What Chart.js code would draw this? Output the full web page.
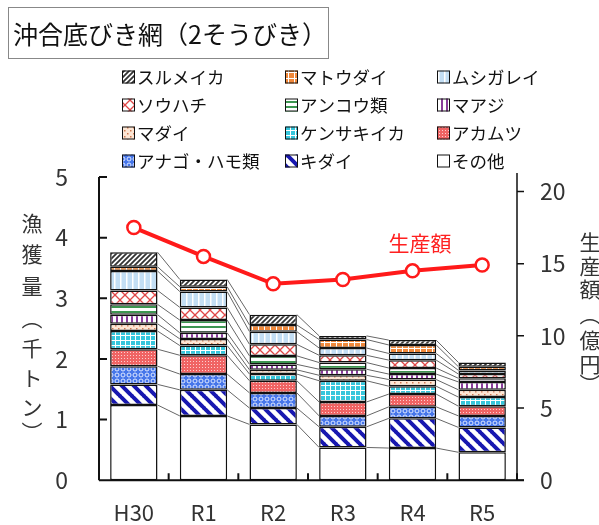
<!DOCTYPE html>
<html>
<head>
<meta charset="utf-8">
<script src="https://cdn.jsdelivr.net/npm/chart.js"></script>
<style>
  body { margin: 0; background: #fff; }
  #wrap { width: 599px; height: 525px; }
</style>
</head>
<body>
<div id="wrap"><canvas id="cv" width="599" height="525"></canvas></div>
<script>
// years
const years = ['H30', 'R1', 'R2', 'R3', 'R4', 'R5'];

// catch (thousand t), stack from bottom
const sonota     = [1.24, 1.06, 0.92, 0.54, 0.53, 0.46];
const kidai      = [0.34, 0.43, 0.27, 0.34, 0.49, 0.41];
const anago      = [0.30, 0.26, 0.25, 0.18, 0.19, 0.19];
const akamutsu   = [0.28, 0.31, 0.20, 0.23, 0.21, 0.16];
const kensaki    = [0.30, 0.16, 0.11, 0.35, 0.13, 0.15];
const madai      = [0.12, 0.11, 0.07, 0.09, 0.11, 0.12];
const maaji      = [0.15, 0.10, 0.09, 0.10, 0.09, 0.13];
const ankou      = [0.17, 0.21, 0.14, 0.11, 0.10, 0.06];
const souhachi   = [0.23, 0.21, 0.19, 0.12, 0.13, 0.07];
const mushigarei = [0.32, 0.26, 0.21, 0.12, 0.11, 0.06];
const matoudai   = [0.07, 0.08, 0.11, 0.14, 0.14, 0.06];
const surumeika  = [0.24, 0.12, 0.17, 0.06, 0.08, 0.07];

// production value (100 million yen)
const seisangaku = [17.5, 15.5, 13.6, 13.9, 14.5, 14.9];

// axis ticks
const catchTicks = [0, 1, 2, 3, 4, 5];
const valueTicks = [0, 5, 10, 15, 20];

const FONT = "'Noto Sans CJK JP', 'Noto Sans', sans-serif";
Chart.defaults.font.family = FONT;

const canvas = document.getElementById('cv');
const ctx = canvas.getContext('2d');

// small tile patterns
function pat(size, bg, draw) {
  const c = document.createElement('canvas');
  c.width = c.height = size;
  const g = c.getContext('2d');
  g.fillStyle = bg;
  g.fillRect(0, 0, size, size);
  draw(g, size);
  return ctx.createPattern(c, 'repeat');
}
function slash(g, s, col, lw) {   // "/"
  g.strokeStyle = col; g.lineWidth = lw; g.beginPath();
  g.moveTo(0, s); g.lineTo(s, 0);
  g.moveTo(-1, 1); g.lineTo(1, -1);
  g.moveTo(s - 1, s + 1); g.lineTo(s + 1, s - 1);
  g.stroke();
}
function backslash(g, s, col, lw) { // "\"
  g.strokeStyle = col; g.lineWidth = lw; g.beginPath();
  g.moveTo(0, 0); g.lineTo(s, s);
  g.moveTo(s - 1, -1); g.lineTo(s + 1, 1);
  g.moveTo(-1, s - 1); g.lineTo(1, s + 1);
  g.stroke();
}
function grid(g, s, col, lw) {
  g.fillStyle = col;
  g.fillRect(0, 0, s, lw);
  g.fillRect(0, 0, lw, s);
}

const fills = {
  surumeika: pat(5, '#fff', (g, s) => slash(g, s, '#333', 1.8)),
  matoudai: pat(6, '#f0883a', (g, s) => grid(g, s, '#fff', 1)),
  mushigarei: pat(6, '#c3def4', (g, s) => { g.fillStyle = '#fff'; g.fillRect(0, 0, 1.5, s); }),
  souhachi: pat(10, '#fff', (g, s) => { slash(g, s, '#e04848', 1.3); backslash(g, s, '#e04848', 1.3); }),
  ankou: pat(5, '#fff', (g, s) => { g.fillStyle = '#3c9650'; g.fillRect(0, 1, s, 2); }),
  maaji: pat(5, '#fff', (g, s) => { g.fillStyle = '#8a3c9c'; g.fillRect(1, 0, 2, s); }),
  madai: pat(6, '#fde6d4', (g, s) => { g.fillStyle = '#d07850'; g.fillRect(1, 1, 1.5, 1.5); g.fillRect(4, 4, 1.5, 1.5); }),
  kensaki: pat(5, '#36c6dc', (g, s) => grid(g, s, '#fff', 1)),
  akamutsu: pat(3, '#f06464', (g, s) => { g.fillStyle = '#fbd0d0'; g.fillRect(1, 1, 1, 1); }),
  anago: pat(6, '#4676ea', (g, s) => { g.strokeStyle = '#dfe8ff'; g.lineWidth = 1; g.beginPath(); g.arc(3, 3, 2, 0, Math.PI * 2); g.stroke(); }),
  kidai: pat(12, '#fff', (g, s) => backslash(g, s, '#1818b0', 4)),
  sonota: '#fff'
};

// bottom to top
const barSets = [
  ['その他', sonota, fills.sonota],
  ['キダイ', kidai, fills.kidai],
  ['アナゴ・ハモ類', anago, fills.anago],
  ['アカムツ', akamutsu, fills.akamutsu],
  ['ケンサキイカ', kensaki, fills.kensaki],
  ['マダイ', madai, fills.madai],
  ['マアジ', maaji, fills.maaji],
  ['アンコウ類', ankou, fills.ankou],
  ['ソウハチ', souhachi, fills.souhachi],
  ['ムシガレイ', mushigarei, fills.mushigarei],
  ['マトウダイ', matoudai, fills.matoudai],
  ['スルメイカ', surumeika, fills.surumeika]
];

const datasets = barSets.map(([label, data, bg]) => ({
  type: 'bar',
  label: label,
  data: data,
  backgroundColor: bg,
  borderColor: '#111',
  borderWidth: 1.5,
  borderSkipped: false,
  yAxisID: 'y',
  stack: 'catch',
  order: 1,
  barPercentage: 0.68,
  categoryPercentage: 1.0
}));
datasets.push({
  type: 'line',
  label: '生産額',
  data: seisangaku,
  yAxisID: 'y2',
  borderColor: '#ff1a1a',
  borderWidth: 4,
  pointRadius: 6.5,
  pointBackgroundColor: '#fff',
  pointBorderColor: '#ff1a1a',
  pointBorderWidth: 2.5,
  order: 0
});

function vText(c, chars, x, ys) {
  c.textAlign = 'center';
  c.textBaseline = 'middle';
  chars.forEach((ch, i) => c.fillText(ch, x, ys[i]));
}

const decor = {
  id: 'decor',
  beforeDatasetDraw(chart, args) {
    if (chart.data.datasets[args.index].type !== 'line') return;
    // thin connectors between segment tops
    const c = chart.ctx;
    c.save();
    c.strokeStyle = '#666';
    c.lineWidth = 1;
    c.beginPath();
    barSets.forEach((_, di) => {
      const pts = chart.getDatasetMeta(di).data;
      for (let i = 0; i < pts.length - 1; i++) {
        const a = pts[i], b = pts[i + 1];
        c.moveTo(a.x + a.width / 2, a.y);
        c.lineTo(b.x - b.width / 2, b.y);
      }
    });
    c.stroke();
    c.restore();
  },
  afterDraw(chart) {
    const c = chart.ctx;
    const { left, right, top, bottom } = chart.chartArea;
    const y = chart.scales.y, y2 = chart.scales.y2;
    c.save();
    c.strokeStyle = '#111';
    // axes
    c.lineWidth = 2;
    c.beginPath();
    c.moveTo(left, y.getPixelForValue(5)); c.lineTo(left, bottom);
    c.moveTo(left, bottom); c.lineTo(right + 7, bottom);
    catchTicks.forEach(v => {
      const py = y.getPixelForValue(v);
      c.moveTo(left, py); c.lineTo(left + 8, py);
    });
    const cw = (right - left) / years.length;
    for (let k = 1; k <= years.length; k++) {
      const px = left + k * cw;
      c.moveTo(px, bottom); c.lineTo(px, bottom - 7);
    }
    c.stroke();
    c.lineWidth = 1.5;
    c.beginPath();
    c.moveTo(right, top - 4); c.lineTo(right, bottom);
    valueTicks.forEach(v => {
      const py = y2.getPixelForValue(v);
      c.moveTo(right, py); c.lineTo(right + 7, py);
    });
    c.stroke();

    // title box
    c.strokeStyle = '#888';
    c.lineWidth = 1;
    c.strokeRect(8.5, 7.5, 320, 51);
    c.fillStyle = '#111';
    c.font = '25px ' + FONT;
    c.textAlign = 'left';
    c.textBaseline = 'middle';
    c.fillText('沖合底びき網（2そうびき）', 13, 34);

    // legend, 3 columns x 4 rows, top of stack first
    const colX = [122, 285, 437];
    const rowY = [77, 105, 133, 161];
    c.font = '17.5px ' + FONT;
    const items = barSets.slice().reverse();
    items.forEach(([label, , bg], i) => {
      const bx = colX[i % 3], by = rowY[Math.floor(i / 3)];
      c.fillStyle = bg;
      c.fillRect(bx, by - 6.5, 13, 13);
      c.strokeStyle = '#111';
      c.lineWidth = 1;
      c.strokeRect(bx + 0.5, by - 6, 12, 12);
      c.fillStyle = '#111';
      c.textAlign = 'left';
      c.fillText(label, bx + 15, by);
    });

    // axis titles
    c.fillStyle = '#333';
    c.font = '21px ' + FONT;
    vText(c, ['漁', '獲', '量', '︵', '千', 'ト', 'ン', '︶'], 32,
      [223, 254, 286, 318, 348, 378, 407, 432]);
    vText(c, ['生', '産', '額', '︵', '億', '円', '︶'], 590,
      [242, 266, 289, 314, 340, 364, 384]);

    // series label
    c.fillStyle = '#ff2020';
    c.font = '21px ' + FONT;
    c.textAlign = 'center';
    c.fillText('生産額', 420, 243);
    c.restore();
  }
};

new Chart(ctx, {
  type: 'bar',
  data: { labels: years, datasets: datasets },
  options: {
    responsive: false,
    animation: false,
    layout: { padding: { top: 177, left: 0, right: 0, bottom: 0 } },
    plugins: { legend: { display: false }, tooltip: { enabled: false }, title: { display: false } },
    scales: {
      x: {
        stacked: true,
        grid: { display: false, drawTicks: false },
        border: { display: false },
        ticks: { color: '#333', font: { size: 22 }, padding: 19 },
        afterFit: s => { s.height = 42; }
      },
      y: {
        stacked: true,
        position: 'left',
        min: 0, max: 5,
        grid: { display: false, drawTicks: false },
        border: { display: false },
        ticks: { color: '#333', font: { size: 23 }, padding: 31 },
        afterBuildTicks: s => { s.ticks = catchTicks.map(v => ({ value: v })); },
        afterFit: s => { s.width = 99; }
      },
      y2: {
        position: 'right',
        min: 0, max: 21,
        grid: { display: false, drawTicks: false },
        border: { display: false },
        ticks: { color: '#333', font: { size: 23 }, padding: 23 },
        afterBuildTicks: s => { s.ticks = valueTicks.map(v => ({ value: v })); },
        afterFit: s => { s.width = 82; }
      }
    }
  },
  plugins: [decor]
});
</script>
</body>
</html>
